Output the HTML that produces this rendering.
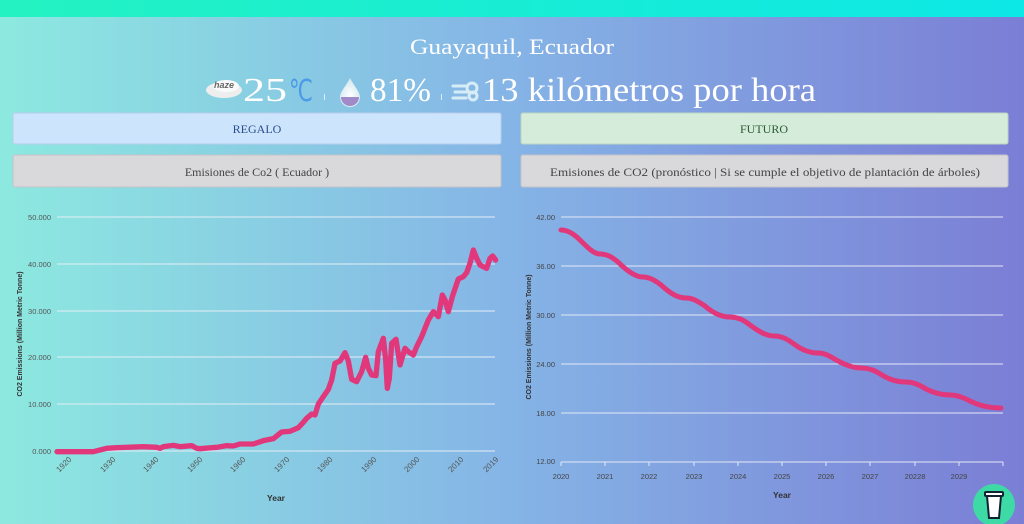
<!DOCTYPE html>
<html><head><meta charset="utf-8"><style>
html,body{margin:0;padding:0;width:1024px;height:524px;overflow:hidden}
svg{display:block}
</style></head><body>
<svg width="1024" height="524" viewBox="0 0 1024 524" xmlns="http://www.w3.org/2000/svg" font-family="Liberation Serif, serif">
<defs>
<linearGradient id="bg" x1="0" x2="1" y1="0" y2="0"><stop offset="0" stop-color="#8de9e0"/><stop offset="0.5" stop-color="#85b4e6"/><stop offset="1" stop-color="#7b7ed5"/></linearGradient>
<linearGradient id="top" x1="0" x2="1"><stop offset="0" stop-color="#24f2c2"/><stop offset="1" stop-color="#0ce8e6"/></linearGradient>
<radialGradient id="drop" cx="0.5" cy="0.6" r="0.6"><stop offset="0" stop-color="#ffffff"/><stop offset="1" stop-color="#cfe6ee"/></radialGradient>
</defs>
<rect width="1024" height="524" fill="url(#bg)"/>
<rect width="1024" height="17" fill="url(#top)"/>

<text x="410" y="54" font-size="22" fill="#fff" textLength="204" lengthAdjust="spacingAndGlyphs">Guayaquil, Ecuador</text>
<!-- haze cloud -->
<ellipse cx="224" cy="90" rx="18" ry="8" fill="#eee"/>
<ellipse cx="226" cy="86" rx="13" ry="6" fill="#fafafa"/>
<text x="224" y="88" text-anchor="middle" font-size="9" font-style="italic" font-weight="bold" fill="#666" font-family="Liberation Sans, sans-serif">haze</text>
<text x="243" y="101" font-size="34" fill="#fff" textLength="44" lengthAdjust="spacingAndGlyphs">25</text>
<text x="289" y="101" font-size="30" fill="#4a9ae8" font-family="Liberation Sans, sans-serif" textLength="24" lengthAdjust="spacingAndGlyphs">℃</text>
<rect x="324" y="94" width="1" height="6" fill="#fff" opacity="0.7"/>
<path d="M350 78 C346 86 340 92 340 97 A10 10 0 0 0 360 97 C360 92 354 86 350 78Z" fill="url(#drop)"/>
<path d="M341 97 A9 9 0 0 0 359 97Z" fill="#a08ac8"/>
<text x="370" y="101" font-size="34" fill="#fff" textLength="61" lengthAdjust="spacingAndGlyphs">81%</text>
<rect x="441" y="94" width="1" height="6" fill="#fff" opacity="0.7"/>
<g stroke="#d6ecf6" stroke-width="3" fill="none" stroke-linecap="round">
<path d="M453 86 H466"/><path d="M455 92 H470"/><path d="M453 98 H466"/>
<circle cx="472" cy="88" r="5"/><circle cx="473" cy="96" r="4"/>
</g>
<text x="482" y="101" font-size="34" fill="#fff" textLength="334" lengthAdjust="spacingAndGlyphs">13 kilómetros por hora</text>

<rect x="13" y="113" width="488" height="31" rx="2" fill="#cde4fd" stroke="#b8cdea"/>
<text x="257" y="133" text-anchor="middle" font-size="12" fill="#2a4e8a">REGALO</text>
<rect x="521" y="113" width="487" height="31" rx="2" fill="#d4ecd9" stroke="#bcd6c2"/>
<text x="764" y="133" text-anchor="middle" font-size="12" fill="#2d5a36">FUTURO</text>
<rect x="13" y="155" width="488" height="32" rx="2" fill="#d9d9dc" stroke="#c4c4c8"/>
<text x="257" y="176" text-anchor="middle" font-size="12" fill="#444">Emisiones de Co2 ( Ecuador )</text>
<rect x="521" y="155" width="487" height="32" rx="2" fill="#d9d9dc" stroke="#c4c4c8"/>
<text x="550" y="176" font-size="12" fill="#444" textLength="430" lengthAdjust="spacingAndGlyphs">Emisiones de CO2 (pronóstico | Si se cumple el objetivo de plantación de árboles)</text>

<!-- left chart -->
<g font-family="Liberation Sans, sans-serif" font-size="7.5" fill="#555">
<g stroke="#e6eef6" stroke-width="1">
<line x1="57" x2="495" y1="217" y2="217"/><line x1="57" x2="495" y1="264" y2="264"/><line x1="57" x2="495" y1="311" y2="311"/><line x1="57" x2="495" y1="357" y2="357"/><line x1="57" x2="495" y1="404" y2="404"/><line x1="57" x2="495" y1="451" y2="451"/>
</g>
<g text-anchor="end"><text x="51" y="220">50.000</text><text x="51" y="267">40.000</text><text x="51" y="314">30.000</text><text x="51" y="360">20.000</text><text x="51" y="407">10.000</text><text x="51" y="454">0.000</text></g>
<g text-anchor="end" font-size="8">
<text transform="translate(72,460) rotate(-45)">1920</text>
<text transform="translate(116,460) rotate(-45)">1930</text>
<text transform="translate(159,460) rotate(-45)">1940</text>
<text transform="translate(203,460) rotate(-45)">1950</text>
<text transform="translate(246,460) rotate(-45)">1960</text>
<text transform="translate(290,460) rotate(-45)">1970</text>
<text transform="translate(333,460) rotate(-45)">1980</text>
<text transform="translate(377,460) rotate(-45)">1990</text>
<text transform="translate(420,460) rotate(-45)">2000</text>
<text transform="translate(464,460) rotate(-45)">2010</text>
<text transform="translate(499,460) rotate(-45)">2019</text>
</g>
<text x="276" y="501" text-anchor="middle" font-weight="bold" font-size="8.5" fill="#333">Year</text>
<text transform="translate(22,334) rotate(-90)" text-anchor="middle" font-weight="bold" font-size="7" fill="#333">CO2 Emissions (Million Metric Tonne)</text>
</g>
<polyline transform="translate(0,200) scale(0.33333)" fill="none" stroke="#e0387a" stroke-width="16" stroke-linejoin="round" stroke-linecap="round"
points="171,755 280,755 320,745 350,743 430,740 470,742 480,745 490,740 520,736 540,740 575,737 590,745 600,746 650,742 680,737 700,738 720,732 760,732 790,722 820,716 845,696 870,694 895,683 910,667 920,655 935,642 945,645 955,612 970,590 985,568 995,540 1005,490 1020,483 1035,458 1045,483 1055,538 1070,545 1085,515 1097,472 1105,505 1115,525 1128,527 1135,455 1150,415 1157,480 1162,565 1168,535 1175,430 1188,418 1200,495 1215,445 1225,455 1240,465 1250,440 1265,410 1285,360 1300,335 1315,350 1327,285 1335,300 1345,335 1357,290 1375,237 1390,230 1400,218 1410,190 1420,150 1430,175 1440,195 1460,205 1470,175 1478,168 1487,180"/>

<!-- right chart -->
<g font-family="Liberation Sans, sans-serif" font-size="7.5" fill="#444">
<g stroke="#e4e8f6" stroke-width="1">
<line x1="561" x2="1003" y1="217" y2="217"/><line x1="561" x2="1003" y1="266" y2="266"/><line x1="561" x2="1003" y1="315" y2="315"/><line x1="561" x2="1003" y1="364" y2="364"/><line x1="561" x2="1003" y1="413" y2="413"/><line x1="561" x2="1003" y1="462" y2="462"/>
</g>
<g stroke="#e4e8f6"><line x1="561" x2="561" y1="462" y2="466"/><line x1="605" x2="605" y1="462" y2="466"/><line x1="649" x2="649" y1="462" y2="466"/><line x1="694" x2="694" y1="462" y2="466"/><line x1="738" x2="738" y1="462" y2="466"/><line x1="782" x2="782" y1="462" y2="466"/><line x1="826" x2="826" y1="462" y2="466"/><line x1="870" x2="870" y1="462" y2="466"/><line x1="915" x2="915" y1="462" y2="466"/><line x1="959" x2="959" y1="462" y2="466"/><line x1="1003" x2="1003" y1="462" y2="466"/></g>
<g text-anchor="end"><text x="555" y="220">42.00</text><text x="555" y="269">36.00</text><text x="555" y="318">30.00</text><text x="555" y="367">24.00</text><text x="555" y="416">18.00</text><text x="555" y="464">12.00</text></g>
<g text-anchor="middle"><text x="561" y="479">2020</text><text x="605" y="479">2021</text><text x="649" y="479">2022</text><text x="694" y="479">2023</text><text x="738" y="479">2024</text><text x="782" y="479">2025</text><text x="826" y="479">2026</text><text x="870" y="479">2027</text><text x="915" y="479">20228</text><text x="959" y="479">2029</text></g>
<text x="782" y="498" text-anchor="middle" font-weight="bold" font-size="8.5" fill="#333">Year</text>
<text transform="translate(531,337) rotate(-90)" text-anchor="middle" font-weight="bold" font-size="7" fill="#333">CO2 Emissions (Million Metric Tonne)</text>
</g>
<path fill="none" stroke="#e0387a" stroke-width="5" stroke-linecap="round"
d="M561 230 C567 230 574 234 580 240 C588 248 594 254 600 254 C607 254 612 257 618 262 C628 272 636 277 643 277 C650 277 656 281 661 285 C671 294 678 298 686 298 C693 298 699 302 705 306 C713 313 722 317 730 317 C738 317 744 320 750 325 C758 331 766 336 774 336 C782 336 787 339 794 344 C802 350 810 353 818 353 C826 353 831 357 838 361 C846 365 853 368 862 368 C870 368 876 371 882 375 C890 380 898 382 906 382 C914 382 920 385 926 389 C934 393 941 395 950 395 C958 395 964 398 970 401 C980 406 990 408 1001 408"/>

<!-- cup button -->
<circle cx="994" cy="505" r="21" fill="#3ddaa6"/>
<g stroke="#123" stroke-width="2" fill="#fff">
<rect x="985" y="492" width="18" height="4" rx="1"/>
<path d="M987 496 L989 518 H999 L1001 496Z"/>
</g>
</svg>
</body></html>
